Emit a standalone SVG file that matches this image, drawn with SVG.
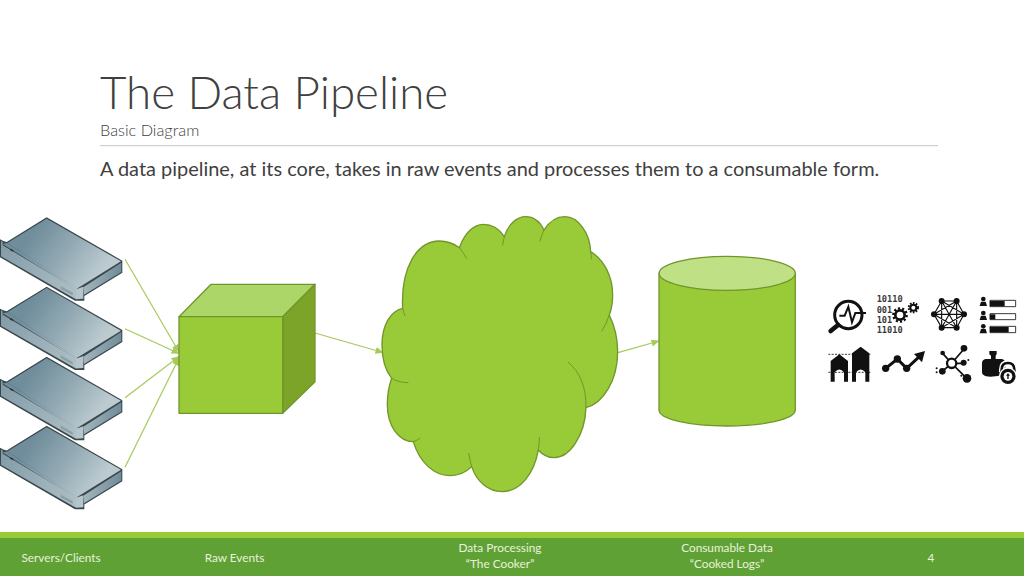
<svg xmlns="http://www.w3.org/2000/svg" width="1024" height="576" viewBox="0 0 1024 576">
<style>
text{font-family:"Lato","Liberation Sans",sans-serif}
.foot{fill:#e8f2dc;font-size:11.800px;text-anchor:middle}
.g{fill:#99cb38;stroke:#70962a;stroke-width:1.3;stroke-linejoin:round}
.c{stroke:#a6c95a;stroke-width:1.2;fill:none;marker-end:url(#arr)}
.ln{fill:none;stroke:#70962a;stroke-width:3;stroke-linecap:round}
.k{fill:#111;stroke:none}
.ks{fill:none;stroke:#111}
.b{font-size:26px;font-weight:bold;fill:#3a3a3a}
</style>
<defs>
<marker id="arr" markerWidth="9" markerHeight="8" refX="7.500" refY="3.500" orient="auto" markerUnits="userSpaceOnUse"><path d="M0 0L8 3.500L0 7Z" fill="#a6c95a"/></marker>
<linearGradient id="top" gradientUnits="userSpaceOnUse" x1="110" y1="50" x2="300" y2="190"><stop offset="0" stop-color="#6f8d9b"/><stop offset="0.5" stop-color="#93aab4"/><stop offset="1" stop-color="#bccbd0"/></linearGradient>
<linearGradient id="side" gradientUnits="userSpaceOnUse" x1="0" y1="110" x2="230" y2="250"><stop offset="0" stop-color="#829ca8"/><stop offset="1" stop-color="#aebfc5"/></linearGradient>
<linearGradient id="right" gradientUnits="userSpaceOnUse" x1="250" y1="0" x2="367" y2="0"><stop offset="0" stop-color="#a3b5bc"/><stop offset="1" stop-color="#6f8b98"/></linearGradient>
<g id="srv" transform="scale(0.3333)">
<path d="M0 88L10 93L20 96L140 22L367 152V188L253 258V272L225 272L0 142Z" fill="#3a474d"/>
<path d="M22 99L140 26L363 154L240 230L230 236Z" fill="url(#top)"/>
<path d="M3 92L8 96V106L230 238L228 268L3 139Z" fill="url(#side)"/>
<path d="M8 102L22 99L232 236L230 240Z" fill="url(#top)"/>
<path d="M250 232L364 158V186L252 254Z" fill="url(#right)"/>
<path d="M228 238L250 230V266L228 268Z" fill="#b5c5cb"/>
<path d="M30 116l10 4v5l-10-4z" fill="#2a3439"/>
<path d="M182 228L218 248V256L182 236Z" fill="#8b9fa8"/>
</g>
</defs>

<g id="header">
<text x="100" y="109" font-size="45.700" font-weight="300" fill="#404040">The Data Pipeline</text>
<text x="100" y="136" font-size="16.300" font-weight="300" fill="#404040">Basic Diagram</text>
<rect x="100" y="145" width="838" height="1.200" fill="#cfcfcf"/>
<text x="100" y="176" font-size="19.950" fill="#404040">A data pipeline, at its core, takes in raw events and processes them to a consumable form.</text>
</g>

<g id="server-1"><use href="#srv" x="0" y="210"/></g>
<g id="server-2"><use href="#srv" x="0" y="279.300"/></g>
<g id="server-3"><use href="#srv" x="0" y="349.500"/></g>
<g id="server-4"><use href="#srv" x="0" y="418.500"/></g>

<g id="connectors">
<path class="c" d="M125 259.300L179 352"/>
<path class="c" d="M125 328.700L179 353.500"/>
<path class="c" d="M125 397.700L179 356.500"/>
<path class="c" d="M125 467.300L179 358"/>
<path class="c" d="M315 333L383 352.500"/>
<path class="c" d="M618 352.700L659 341"/>
</g>

<g id="raw-events">
<path d="M179 316.700L211 284.300H315L282.700 316.700Z" fill="#acd668" stroke="#70962a" stroke-width="1.300" stroke-linejoin="round"/>
<path d="M282.700 316.700L315 284.300V381.700L282.700 413.300Z" fill="#7ba428" stroke="#70962a" stroke-width="1.300" stroke-linejoin="round"/>
<rect class="g" x="179" y="316.700" width="103.700" height="96.600"/>
</g>

<g id="cooker" transform="translate(370 205) scale(0.3333)">
<path d="M98 310C92 190 140 108 208 108C232 108 252 116 268 128C285 82 312 58 340 58C366 58 388 72 403 95C415 58 440 35 467 35C490 35 510 50 522 75C538 50 560 35 585 35C625 35 660 85 662 140C703 165 728 215 728 270C728 292 725 312 718 330C735 365 743 400 743 440C743 525 700 595 648 608C645 690 600 758 553 758C535 758 518 750 505 735C492 810 448 860 397 860C355 860 320 830 305 785C288 802 265 812 240 812C190 812 148 770 130 710C85 710 52 660 52 600C52 570 56 545 65 520C45 495 36 460 36 420C36 360 62 318 98 310Z" fill="#99cb38" stroke="#70962a" stroke-width="4" stroke-linejoin="round"/>
<path class="ln" d="M268 128Q280 142 290 160M403 95Q400 108 398 120M522 75Q515 90 510 108M662 140Q664 150 664 162M718 330Q710 355 696 378M595 472C630 500 650 550 648 608M508 697Q508 718 505 735M296 745Q300 765 305 785M130 710Q140 707 150 700M65 520Q85 533 114 533M98 310Q100 322 105 332"/>
</g>

<g id="consumable">
<path class="g" d="M659 273.300V410C659 419 689 426 727 426C765 426 795.300 419 795.300 410V273.300Z"/>
<ellipse cx="727.200" cy="273.300" rx="68.100" ry="17" fill="#c0e086" stroke="#70962a" stroke-width="1.300"/>
</g>

<g id="icons" transform="translate(820 285) scale(0.3333)">
<g id="icon-search">
<circle class="ks" cx="85" cy="90" r="41" stroke-width="9"/>
<path class="ks" stroke-width="14" stroke-linecap="round" d="M54 120L32 138"/>
<path class="ks" stroke-width="6" d="M58 92H74L85 65L96 112L106 84H138"/>
</g>
<g id="icon-binary" style="font-family:'DejaVu Sans Mono',monospace">
<text x="170" y="52" class="b" style="font-family:'DejaVu Sans Mono',monospace">10110</text>
<text x="170" y="83" class="b" style="font-family:'DejaVu Sans Mono',monospace">001</text>
<text x="170" y="114" class="b" style="font-family:'DejaVu Sans Mono',monospace">101</text>
<text x="170" y="145" class="b" style="font-family:'DejaVu Sans Mono',monospace">11010</text>
<circle class="ks" cx="240" cy="90" r="14" stroke-width="8"/>
<circle class="ks" cx="240" cy="90" r="20" stroke-width="7" stroke-dasharray="6.500 6"/>
<circle class="ks" cx="280" cy="68" r="9" stroke-width="6"/>
<circle class="ks" cx="280" cy="68" r="14" stroke-width="6" stroke-dasharray="5 4"/>
</g>
<g id="icon-network">
<path class="ks" stroke-width="3.500" d="M365 48H410L432 88L410 128H365L342 88ZM365 48L432 88L365 128L365 48M410 48L342 88L410 128L410 48M342 88H432M365 48L410 128M410 48L365 128"/>
<g class="k"><circle cx="365" cy="48" r="9"/><circle cx="410" cy="48" r="9"/><circle cx="432" cy="88" r="9"/><circle cx="410" cy="128" r="9"/><circle cx="365" cy="128" r="9"/><circle cx="342" cy="88" r="9"/></g>
</g>
<g id="icon-people">
<g class="k">
<circle cx="490" cy="42" r="7"/><path d="M479 63L483 50H497L501 63Z"/>
<circle cx="490" cy="84" r="7"/><path d="M479 105L483 92H497L501 105Z"/>
<circle cx="490" cy="124" r="7"/><path d="M479 145L483 132H497L501 145Z"/>
<rect x="510" y="48" width="44" height="16"/><rect x="510" y="88" width="16" height="15"/><rect x="510" y="126" width="56" height="16"/>
</g>
<path class="ks" stroke-width="2.500" d="M510 46H587V65H510ZM510 86H587V104H510ZM510 124H587V143H510Z"/>
</g>
<g id="icon-barns">
<path class="k" d="M32 290V228L58 208L84 228V290H72V262Q58 245 44 262V290ZM96 290V205L122 185L148 205V290H136V262Q122 245 108 262V290Z"/>
<path class="ks" stroke-width="2.500" stroke-dasharray="6 4" d="M25 208H155M25 262H155"/>
</g>
<g id="icon-trend">
<path class="ks" stroke-width="9" d="M197 250L232 222L260 250L298 215"/>
<path class="k" d="M282 207L315 198L306 232Z"/>
<g class="k"><circle cx="197" cy="250" r="11"/><circle cx="232" cy="222" r="11"/><circle cx="260" cy="250" r="11"/></g>
</g>
<g id="icon-hub">
<path class="ks" stroke-width="5" d="M395 235L432 192M395 235L368 205M395 235H432M395 235L368 258M395 235L440 280"/>
<circle cx="395" cy="235" r="14" fill="#fff" stroke="#111" stroke-width="7"/>
<g class="k"><circle cx="432" cy="190" r="10"/><circle cx="368" cy="204" r="7"/><circle cx="431" cy="233" r="9"/><circle cx="367" cy="259" r="10"/><circle cx="441" cy="280" r="13"/><circle cx="350" cy="250" r="3"/><circle cx="350" cy="262" r="3"/><circle cx="445" cy="225" r="3"/><circle cx="424" cy="272" r="3"/></g>
</g>
<g id="icon-lock">
<path class="k" d="M508 198H530V208L527 212V222H545Q556 224 556 236V266Q525 278 498 274Q486 270 486 262V236Q486 224 497 222H513V212L508 208Z"/>
<rect x="535" y="232" width="60" height="66" fill="#fff" opacity="0"/>
<path d="M545 262V254Q545 234 564 234Q583 234 583 254V262" fill="none" stroke="#fff" stroke-width="16"/>
<path d="M545 262V254Q545 234 564 234Q583 234 583 254V262" fill="none" stroke="#111" stroke-width="8"/>
<circle cx="564" cy="274" r="25" fill="#111" stroke="#fff" stroke-width="4"/>
<circle cx="564" cy="274" r="13" fill="#fff"/>
<path class="k" d="M564 264l6 8h-4v10h-4v-10h-4z"/>
</g>
</g>

<g id="footer">
<rect y="532" width="1024" height="6" fill="#99cb38"/>
<rect y="538" width="1024" height="38" fill="#60a135"/>
<text class="foot" x="61" y="562">Servers/Clients</text>
<text class="foot" x="234.500" y="562">Raw Events</text>
<text class="foot" x="500" y="552">Data Processing</text>
<text class="foot" x="500" y="568">“The Cooker”</text>
<text class="foot" x="727" y="552">Consumable Data</text>
<text class="foot" x="727" y="568">“Cooked Logs”</text>
<text class="foot" x="931" y="562">4</text>
</g>
</svg>
